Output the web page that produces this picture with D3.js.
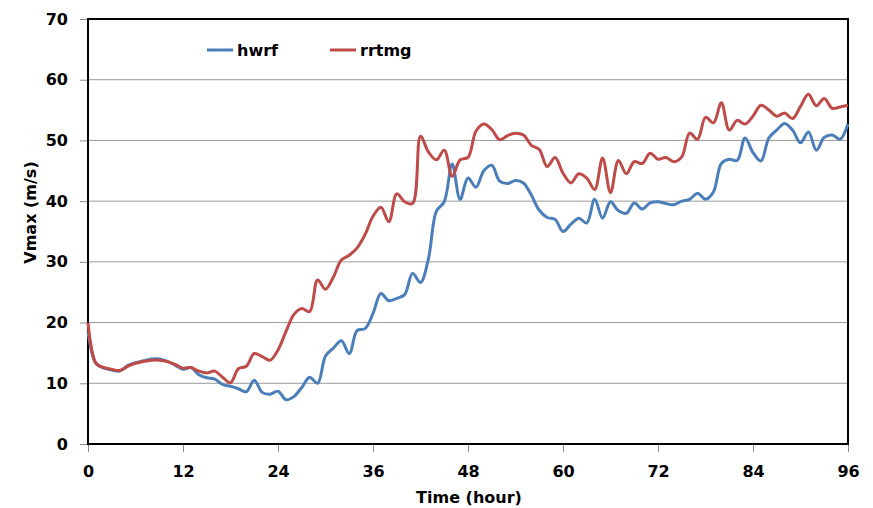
<!DOCTYPE html>
<html>
<head>
<meta charset="utf-8">
<script src="https://cdn.jsdelivr.net/npm/d3@7"></script>
<style>
body { margin: 0; background: #fff; }
text { font-family: "DejaVu Sans", sans-serif; font-weight: bold; fill: #000; }
</style>
</head>
<body>
<div id="chart"></div>
<script>
// hourly Vmax (m/s), hours 0..96
var hours = d3.range(0, 97);
var hwrf = [18.5,13.3,12.5,12.2,12.0,12.9,13.4,13.7,14.0,14.0,
  13.6,13.0,12.3,12.6,11.4,10.9,10.7,9.8,9.5,9.1,
  8.6,10.5,8.5,8.2,8.7,7.3,7.8,9.3,11.0,10.0,
  14.5,15.8,17.0,14.9,18.7,19.0,21.5,24.8,23.6,24.0,
  24.6,28.1,26.6,30.5,38.3,39.9,46.1,40.3,43.8,42.3,
  45.0,45.9,43.3,42.9,43.4,43.0,41.0,38.5,37.3,37.0,
  35.0,36.2,37.2,36.4,40.3,37.2,39.9,38.4,38.0,39.7,
  38.7,39.7,39.9,39.6,39.4,40.0,40.3,41.3,40.3,41.5,
  46.2,46.9,46.7,50.4,48.0,46.6,50.4,51.7,52.8,51.7,
  49.6,51.4,48.4,50.5,50.9,50.2,52.7];
var rrtmg = [20.0,13.3,12.6,12.3,12.1,12.8,13.3,13.6,13.8,13.8,
  13.6,13.1,12.5,12.6,12.0,11.7,12.0,11.0,10.1,12.4,
  12.8,14.9,14.4,13.8,15.5,18.5,21.3,22.3,21.8,27.0,
  25.5,27.5,30.3,31.1,32.3,34.5,37.5,39.0,36.6,41.2,
  39.9,39.6,50.7,48.1,46.8,48.4,44.1,46.8,47.2,51.5,
  52.7,51.8,50.1,50.8,51.2,50.9,49.2,48.5,45.7,47.2,
  44.6,43.0,44.5,43.8,41.9,47.1,41.4,46.7,44.5,46.5,
  46.2,47.9,46.9,47.2,46.5,47.3,51.2,50.2,53.8,52.9,
  56.2,51.7,53.3,52.7,54.0,55.8,55.0,54.0,54.5,53.6,
  55.6,57.6,55.7,56.9,55.3,55.5,55.8];
var seriesNames = ["hwrf", "rrtmg"];
var seriesColors = ["#4a7ebb", "#be4b48"];
var xTicks = [0, 12, 24, 36, 48, 60, 72, 84, 96];
var yTicks = [0, 10, 20, 30, 40, 50, 60, 70];

var margin = {top: 19, right: 25, bottom: 64, left: 88},
    width = 873 - margin.left - margin.right,
    height = 508 - margin.top - margin.bottom;

var svg = d3.select("#chart").append("svg")
    .attr("width", 873)
    .attr("height", 508)
  .append("g")
    .attr("transform", "translate(" + margin.left + "," + margin.top + ")");

var x = d3.scaleLinear().domain([0, 96]).range([0, width]);
var y = d3.scaleLinear().domain([0, 70]).range([height, 0]);

// gridlines
svg.selectAll(".grid")
    .data(yTicks.filter(function(d){ return d > 0 && d < 70; }))
  .enter().append("line")
    .attr("x1", 0).attr("x2", width)
    .attr("y1", function(d){ return y(d); })
    .attr("y2", function(d){ return y(d); })
    .attr("stroke", "#9a9a9a")
    .attr("stroke-width", 1);

// axes
var xAxis = d3.axisBottom(x).tickValues(xTicks).tickSize(8).tickPadding(14);
var yAxis = d3.axisLeft(y).tickValues(yTicks).tickSize(8).tickPadding(12);

var gx = svg.append("g")
    .attr("transform", "translate(0," + height + ")")
    .call(xAxis);
var gy = svg.append("g").call(yAxis);

[gx, gy].forEach(function(g){
  g.select(".domain").remove();
  g.selectAll(".tick line").attr("stroke", "#8c8c8c");
  g.selectAll(".tick text")
    .style("font-family", "'DejaVu Sans', sans-serif")
    .style("font-weight", "bold")
    .style("font-size", "16px")
    .attr("fill", "#000");
});

// frame
svg.append("rect")
    .attr("width", width)
    .attr("height", height)
    .attr("fill", "none")
    .attr("stroke", "#000")
    .attr("stroke-width", 2);

// lines
var line = d3.line()
    .x(function(d){ return x(d[0]); })
    .y(function(d){ return y(d[1]); })
    .curve(d3.curveCatmullRom.alpha(0.5));

[hwrf, rrtmg].forEach(function(s, i){
  svg.append("path")
    .datum(hours.map(function(h){ return [h, s[h]]; }))
    .attr("fill", "none")
    .attr("stroke", seriesColors[i])
    .attr("stroke-width", 3)
    .attr("stroke-linejoin", "round")
    .attr("d", line);
});

// legend
var legend = svg.selectAll(".legend")
    .data(seriesNames)
  .enter().append("g")
    .attr("transform", function(d, i){ return "translate(" + (119 + i * 123) + ",31)"; });
legend.append("line")
    .attr("x1", 0).attr("x2", 26)
    .attr("stroke", function(d, i){ return seriesColors[i]; })
    .attr("stroke-width", 3);
legend.append("text")
    .attr("x", 30)
    .attr("y", 6)
    .style("font-size", "16px")
    .text(function(d){ return d; });

// axis titles
svg.append("text")
    .attr("x", width / 2 + 1)
    .attr("y", height + 59)
    .attr("text-anchor", "middle")
    .style("font-size", "16px")
    .text("Time (hour)");

svg.append("text")
    .attr("transform", "rotate(-90)")
    .attr("x", -(height / 2) + 19)
    .attr("y", -52)
    .attr("text-anchor", "middle")
    .style("font-size", "16px")
    .text("Vmax (m/s)");
</script>
</body>
</html>
